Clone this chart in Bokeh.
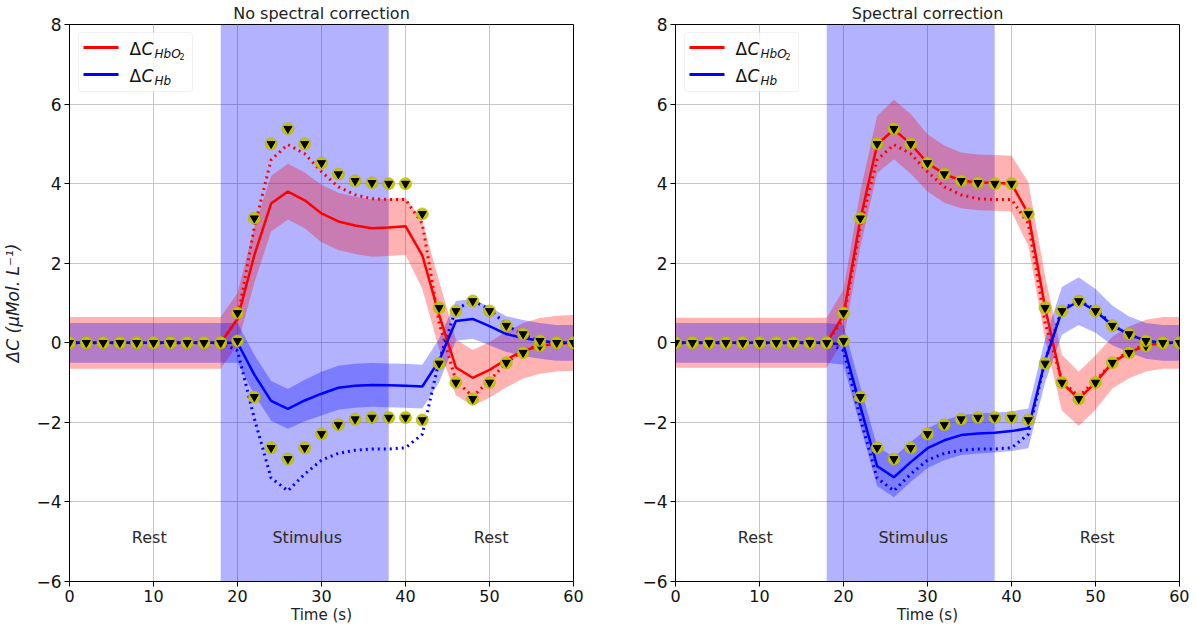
from bokeh.plotting import figure
from bokeh.layouts import row
from bokeh.models import Label, BoxAnnotation, Arrow, Range1d, FixedTicker, ColumnDataSource
from bokeh.core.properties import value
from bokeh.embed import file_html
from bokeh.resources import INLINE

# ---------------- data ----------------
t = [0, 2, 4, 6, 8, 10, 12, 14, 16, 18, 20, 22, 24, 26, 28, 30,
     32, 34, 36, 38, 40, 42, 44, 46, 48, 50, 52, 54, 56, 58, 60]
stim_start = 18
stim_end = 38

# reference (dotted) curves, identical in both panels
hbo_true = [0, 0, 0, 0, 0, 0, 0, 0, 0, 0, 0.6, 2.9, 4.6, 4.98, 4.75, 4.3,
            3.92, 3.72, 3.62, 3.6, 3.6, 3.0, 0.5, -0.95, -1.35, -0.95, -0.5, -0.2, -0.05, 0, 0]
hb_true = [0, 0, 0, 0, 0, 0, 0, 0, 0, 0, -0.2, -1.9, -3.4, -3.72, -3.3, -2.95,
           -2.78, -2.7, -2.67, -2.67, -2.64, -2.3, -0.45, 0.85, 1.05, 0.85, 0.45, 0.2, 0.05, 0, 0]

# marker series (yellow circles with black triangles)
hbo_marker = [0, 0, 0, 0, 0, 0, 0, 0, 0, 0, 0.75, 3.13, 5.0, 5.38, 5.0, 4.52,
              4.24, 4.07, 4.02, 4.0, 4.0, 3.24, 0.88, -1.0, -1.41, -1.0, -0.5, -0.25, -0.08, 0, 0]
hb_marker = [0, 0, 0, 0, 0, 0, 0, 0, 0, 0, 0.05, -1.36, -2.64, -2.92, -2.64, -2.29,
             -2.06, -1.92, -1.88, -1.88, -1.88, -1.94, -0.52, 0.8, 1.05, 0.8, 0.43, 0.22, 0.05, 0, 0]

# left panel: no spectral correction (mean and spread)
hbo_left = [0, 0, 0, 0, 0, 0, 0, 0, 0, 0, 0.6, 2.2, 3.5, 3.8, 3.58, 3.25,
            3.05, 2.95, 2.88, 2.9, 2.93, 2.2, 0.7, -0.62, -0.88, -0.68, -0.42, -0.2, -0.08, -0.02, 0]
hb_left = [0, 0, 0, 0, 0, 0, 0, 0, 0, 0, 0.0, -0.8, -1.46, -1.66, -1.45, -1.28,
           -1.13, -1.08, -1.06, -1.07, -1.08, -1.1, -0.45, 0.55, 0.6, 0.42, 0.22, 0.12, 0.05, 0.0, 0]
sd_hbo_left = [0.65, 0.65, 0.65, 0.65, 0.65, 0.65, 0.65, 0.65, 0.65, 0.65, 0.65, 0.7, 0.7, 0.7, 0.7, 0.72,
               0.72, 0.72, 0.72, 0.72, 0.72, 0.85, 0.85, 0.7, 0.7, 0.7, 0.7, 0.7, 0.7, 0.7, 0.7]
sd_hb_left = [0.5, 0.5, 0.5, 0.5, 0.5, 0.5, 0.5, 0.5, 0.5, 0.5, 0.5, 0.5, 0.5, 0.5, 0.52, 0.55,
              0.55, 0.55, 0.55, 0.55, 0.55, 0.55, 0.55, 0.5, 0.5, 0.48, 0.45, 0.45, 0.45, 0.45, 0.45]

# right panel: spectral correction
hbo_right = [0, 0, 0, 0, 0, 0, 0, 0, 0, 0, 0.7, 3.1, 4.98, 5.36, 5.0, 4.52,
             4.24, 4.08, 4.03, 4.02, 4.0, 3.24, 0.88, -1.0, -1.41, -1.0, -0.5, -0.24, -0.07, 0, 0]
hb_right = [0, 0, 0, 0, 0, 0, 0, 0, 0, 0, -0.05, -1.6, -3.1, -3.38, -3.0, -2.65,
            -2.45, -2.32, -2.28, -2.26, -2.22, -2.15, -0.45, 0.8, 1.05, 0.8, 0.44, 0.21, 0.05, 0, 0]
sd_hbo_right = [0.63, 0.63, 0.63, 0.63, 0.63, 0.63, 0.63, 0.63, 0.63, 0.63, 0.63, 0.7, 0.72, 0.75, 0.75, 0.72,
                0.72, 0.7, 0.7, 0.7, 0.7, 0.8, 0.8, 0.7, 0.68, 0.68, 0.65, 0.65, 0.65, 0.65, 0.65]
sd_hb_right = [0.5, 0.5, 0.5, 0.5, 0.5, 0.5, 0.5, 0.5, 0.5, 0.5, 0.5, 0.5, 0.5, 0.5, 0.5, 0.5,
               0.5, 0.5, 0.5, 0.5, 0.5, 0.5, 0.55, 0.6, 0.6, 0.55, 0.5, 0.45, 0.45, 0.45, 0.45]

phase_names = ["Rest", "Stimulus", "Rest"]
phase_x = [9.5, 28.3, 50.2]
phase_y = [-4.9, -4.9, -4.9]

x_ticks = [0, 10, 20, 30, 40, 50, 60]
y_ticks = [-6, -4, -2, 0, 2, 4, 6, 8]
y_tick_labels = ["\u22126", "\u22124", "\u22122", "0", "2", "4", "6", "8"]

titles = ["No spectral correction", "Spectral correction"]
FONT = "DejaVu Sans"


def make_panel(title, hbo, hb, sd_hbo, sd_hb, left_border, right_border, ylabel):
    p = figure(frame_width=504, frame_height=557,
               x_range=Range1d(0, 60), y_range=Range1d(-6, 8),
               output_backend="svg", toolbar_location=None,
               min_border_left=left_border, min_border_right=right_border,
               min_border_top=21, min_border_bottom=44)
    p.title.text = title
    p.title.align = "center"
    p.title.text_font = FONT
    p.title.text_font_size = "16px"
    p.title.text_font_style = "normal"
    p.title.text_color = "#222222"
    p.title.standoff = 3
    p.outline_line_color = "black"
    p.outline_line_alpha = 1
    p.background_fill_color = "white"
    p.border_fill_color = "white"

    for ax in (p.xaxis[0], p.yaxis[0]):
        ax.minor_tick_line_color = None
        ax.major_tick_out = 5
        ax.major_tick_in = 0
        ax.major_label_text_font = FONT
        ax.major_label_text_color = "#111111"
        ax.axis_line_color = "black"
        ax.major_tick_line_color = "black"
        ax.axis_label_text_font = FONT
        ax.axis_label_text_font_style = "normal"
        ax.axis_label_text_color = "#222222"
    p.xaxis.ticker = FixedTicker(ticks=x_ticks)
    p.yaxis.ticker = FixedTicker(ticks=y_ticks)
    p.yaxis.major_label_overrides = {k: v for k, v in zip(y_ticks, y_tick_labels)}
    p.xaxis.major_label_text_font_size = "16px"
    p.yaxis.major_label_text_font_size = "17px"
    p.xaxis.major_label_standoff = 3
    p.yaxis.major_label_standoff = 3
    p.xaxis.axis_label = "Time (s)"
    p.xaxis.axis_label_text_font_size = "15px"
    p.xaxis.axis_label_standoff = 1
    if ylabel:
        p.yaxis.axis_label = ylabel
        p.yaxis.axis_label_text_font_size = "17px"
        p.yaxis.axis_label_text_font_style = "italic"
        p.yaxis.axis_label_standoff = 10

    p.grid.grid_line_color = "#b8b8b8"
    p.grid.grid_line_width = 1
    p.grid.grid_line_alpha = 0.8

    span = BoxAnnotation(left=stim_start, right=stim_end, fill_color="blue",
                         fill_alpha=0.3, line_alpha=0, level="underlay")
    p.add_layout(span)

    src = ColumnDataSource(dict(
        t=t,
        hbo=hbo, hb=hb,
        hbo_lo=[v - s for v, s in zip(hbo, sd_hbo)],
        hbo_hi=[v + s for v, s in zip(hbo, sd_hbo)],
        hb_lo=[v - s for v, s in zip(hb, sd_hb)],
        hb_hi=[v + s for v, s in zip(hb, sd_hb)],
        hbo_true=hbo_true, hb_true=hb_true,
        hbo_marker=hbo_marker, hb_marker=hb_marker,
    ))

    p.varea(x="t", y1="hbo_lo", y2="hbo_hi", source=src, fill_color="red", fill_alpha=0.3)
    p.varea(x="t", y1="hb_lo", y2="hb_hi", source=src, fill_color="blue", fill_alpha=0.3)

    p.line("t", "hbo_true", source=src, line_color="red", line_width=3, line_dash="2 4")
    p.line("t", "hb_true", source=src, line_color="blue", line_width=3, line_dash="2 4")
    p.line("t", "hbo", source=src, line_color="red", line_width=2.5)
    p.line("t", "hb", source=src, line_color="blue", line_width=2.5)

    for col in ("hbo_marker", "hb_marker"):
        p.scatter("t", col, source=src, marker="circle", size=12,
                  fill_color="#c4c400", fill_alpha=0.95, line_color="#b0b000", line_alpha=0.6)
        p.scatter("t", col, source=src, marker="inverted_triangle", size=8,
                  fill_color="black", line_color="black")

    psrc = ColumnDataSource(dict(x=phase_x, y=phase_y, text=phase_names))
    p.text(x="x", y="y", text="text", source=psrc, text_align="center",
           text_baseline="middle", text_font=value(FONT), text_font_size="16px",
           text_color="#2a2a2a")

    # legend (drawn in frame-relative screen units)
    H = 557
    box = BoxAnnotation(left=9, right=123, top=H - 8, bottom=H - 67,
                        left_units="screen", right_units="screen",
                        top_units="screen", bottom_units="screen",
                        fill_color="white", fill_alpha=0.8,
                        line_color="#d0d0d0", line_width=1, border_radius=3)
    p.add_layout(box)
    for yy, col in ((H - 23, "red"), (H - 50, "blue")):
        p.add_layout(Arrow(end=None, x_start=14, y_start=yy, x_end=49, y_end=yy,
                           start_units="screen", end_units="screen",
                           line_color=col, line_width=3))
    rows = [(H - 24, "HbO", "2"), (H - 51, "Hb", None)]
    for yy, sub, subsub in rows:
        p.add_layout(Label(x=60, y=yy, x_units="screen", y_units="screen", text="\u0394",
                           text_font=FONT, text_font_size="17px", text_baseline="middle",
                           text_color="#111111"))
        p.add_layout(Label(x=72, y=yy, x_units="screen", y_units="screen", text="C",
                           text_font=FONT, text_font_size="17px", text_font_style="italic",
                           text_baseline="middle", text_color="#111111"))
        p.add_layout(Label(x=85, y=yy - 5, x_units="screen", y_units="screen", text=sub,
                           text_font=FONT, text_font_size="12px", text_font_style="italic",
                           text_baseline="middle", text_color="#111111"))
        if subsub:
            p.add_layout(Label(x=110, y=yy - 8, x_units="screen", y_units="screen", text=subsub,
                               text_font=FONT, text_font_size="8px",
                               text_baseline="middle", text_color="#111111"))
    return p


p1 = make_panel(titles[0], hbo_left, hb_left, sd_hbo_left, sd_hb_left, 64, 47,
                "\u0394C (\u03bcMol. L\u207b\u00b9)")
p2 = make_panel(titles[1], hbo_right, hb_right, sd_hbo_right, sd_hb_right, 55, 10, None)

layout = row(p1, p2)
open("out.html", "w").write(file_html(layout, INLINE))
